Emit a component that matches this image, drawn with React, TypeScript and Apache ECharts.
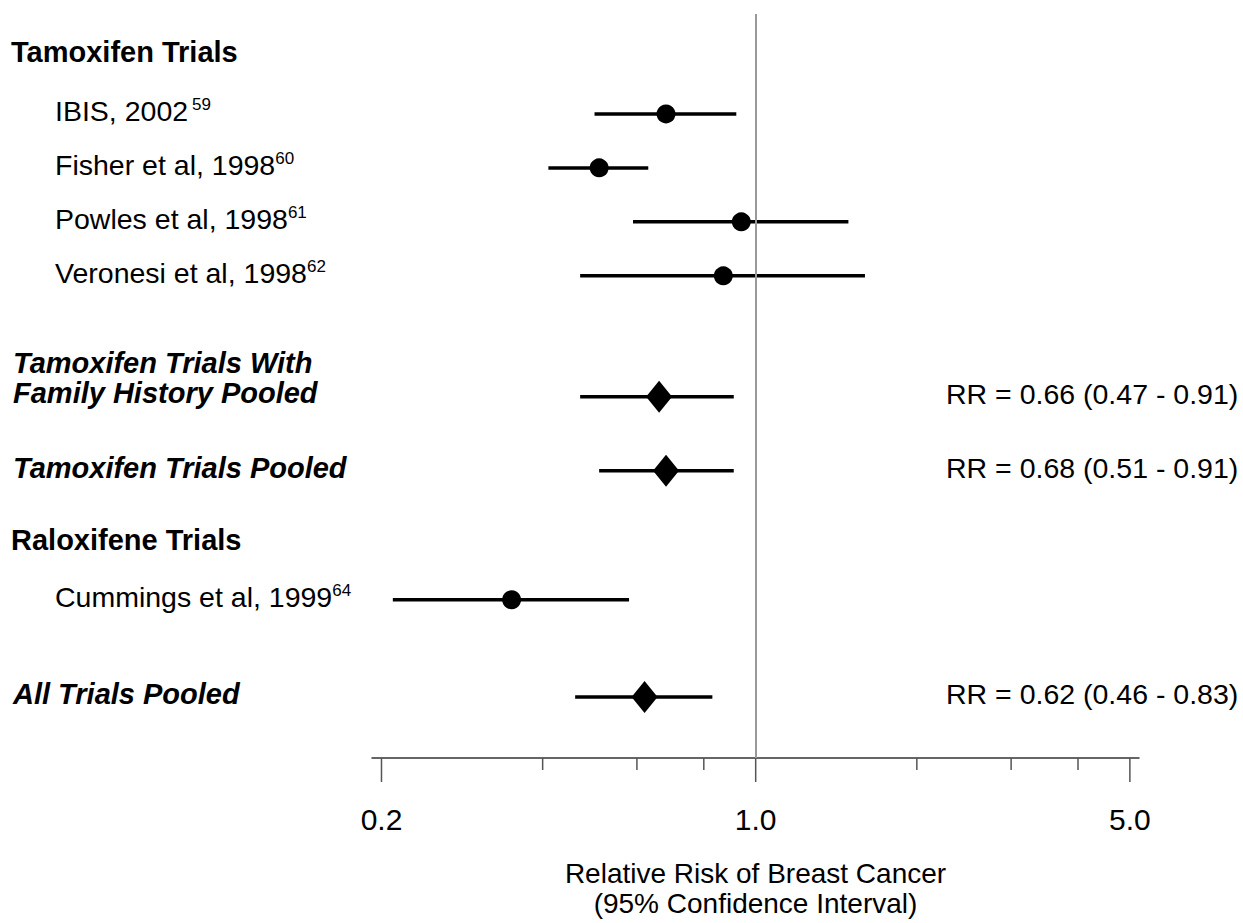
import React, { useEffect, useRef } from "react";
import * as echarts from "echarts";

// Individual trials
const studyNames = [
  "IBIS, 2002",
  "Fisher et al, 1998",
  "Powles et al, 1998",
  "Veronesi et al, 1998",
  "Cummings et al, 1999",
];
const studyRefs = ["59", "60", "61", "62", "64"];
const studyRows = [1, 2, 3, 4, 10];
const studyRR = [0.68, 0.51, 0.94, 0.87, 0.35];
const studyLo = [0.5, 0.41, 0.59, 0.47, 0.21];
const studyHi = [0.92, 0.63, 1.49, 1.6, 0.58];

// Pooled estimates
const pooledNames = [
  "Tamoxifen Trials With\nFamily History Pooled",
  "Tamoxifen Trials Pooled",
  "All Trials Pooled",
];
const pooledRows = [6.24, 7.61, 11.8];
const pooledRR = [0.66, 0.68, 0.62];
const pooledLo = [0.47, 0.51, 0.46];
const pooledHi = [0.91, 0.91, 0.83];

// Group headings
const groupHeaders = ["Tamoxifen Trials", "Raloxifene Trials"];
const headerRows = [-0.15, 8.89];

// Log axis ticks
const tickValues = [0.2, 0.4, 0.6, 0.8, 1, 2, 3, 4, 5];
const majorTicks = [0.2, 1, 5];
const majorLabels = ["0.2", "1.0", "5.0"];

const FONT = '"Liberation Sans", Arial, Helvetica, sans-serif';
const REG = 28.5;
const BOLD = 29;

export default function App() {
  const ref = useRef<HTMLDivElement>(null);

  useEffect(() => {
    document.body.style.margin = "0";
    if (!ref.current) return;
    const chart = echarts.init(ref.current, undefined, { renderer: "svg" });

    const fmt = (v: number) => v.toFixed(2);

    const option: any = {
      animation: false,
      backgroundColor: "#fff",
      grid: { left: 372, right: 104, top: 14, bottom: 165, containLabel: false },
      xAxis: {
        type: "log",
        logBase: 10,
        min: 0.192,
        max: 5.2,
        axisLine: { show: true, onZero: false, lineStyle: { color: "#333", width: 1.5 } },
        axisTick: { show: false },
        axisLabel: { show: false },
        splitLine: { show: false },
        name: "Relative Risk of Breast Cancer\n(95% Confidence Interval)",
        nameLocation: "middle",
        nameGap: 100,
        nameTextStyle: {
          fontFamily: FONT,
          fontSize: 28,
          lineHeight: 30,
          color: "#000",
          align: "center",
        },
      },
      yAxis: {
        type: "value",
        inverse: true,
        min: -0.85,
        max: 12.93,
        show: false,
      },
      series: [
        // Confidence intervals
        {
          type: "custom",
          clip: false,
          data: [
            ...studyRows.map((r, i) => [studyLo[i], studyHi[i], r]),
            ...pooledRows.map((r, i) => [pooledLo[i], pooledHi[i], r]),
          ],
          encode: { x: [0, 1], y: 2 },
          renderItem: (params: any, api: any) => {
            const a = api.coord([api.value(0), api.value(2)]);
            const b = api.coord([api.value(1), api.value(2)]);
            return {
              type: "line",
              shape: { x1: a[0], y1: a[1], x2: b[0], y2: b[1] },
              style: { stroke: "#000", lineWidth: 3.5 },
            };
          },
          z: 2,
        },
        // Trial point estimates
        {
          type: "scatter",
          symbol: "circle",
          symbolSize: 19,
          itemStyle: { color: "#000", opacity: 1 },
          data: studyRows.map((r, i) => [studyRR[i], r]),
          z: 3,
          markLine: {
            silent: true,
            symbol: "none",
            label: { show: false },
            lineStyle: { color: "#999", width: 2, type: "solid" },
            data: [{ xAxis: 1 }],
          },
        },
        // Pooled estimates
        {
          type: "scatter",
          symbol: "diamond",
          symbolSize: [26, 32],
          itemStyle: { color: "#000", opacity: 1 },
          data: pooledRows.map((r, i) => [pooledRR[i], r]),
          z: 3,
        },
        // Axis ticks and tick labels
        {
          type: "custom",
          clip: false,
          data: tickValues.map((v) => [v, 0]),
          encode: { x: 0, y: 1 },
          renderItem: (params: any, api: any) => {
            const v = api.value(0);
            const x = api.coord([v, 0])[0];
            const yBase = params.coordSys.y + params.coordSys.height;
            const mi = majorTicks.indexOf(v);
            const major = mi >= 0;
            const children: any[] = [
              {
                type: "line",
                shape: { x1: x, y1: yBase, x2: x, y2: yBase + (major ? 24 : 12) },
                style: { stroke: "#555", lineWidth: 1.5 },
              },
            ];
            if (major) {
              children.push({
                type: "text",
                style: {
                  x,
                  y: yBase + 61,
                  text: majorLabels[mi],
                  fontFamily: FONT,
                  fontSize: 30,
                  fill: "#000",
                  align: "center",
                  verticalAlign: "middle",
                },
              });
            }
            return { type: "group", children };
          },
        },
        // Group headings
        {
          type: "custom",
          clip: false,
          data: headerRows.map((r) => [1, r]),
          encode: { x: 0, y: 1 },
          renderItem: (params: any, api: any) => {
            const y = api.coord([1, api.value(1)])[1];
            return {
              type: "text",
              style: {
                x: 11,
                y,
                text: groupHeaders[params.dataIndex],
                fontFamily: FONT,
                fontSize: BOLD,
                fontWeight: "bold",
                fill: "#000",
                align: "left",
                verticalAlign: "middle",
              },
            };
          },
        },
        // Trial names with reference numbers
        {
          type: "custom",
          clip: false,
          data: studyRows.map((r) => [1, r]),
          encode: { x: 0, y: 1 },
          renderItem: (params: any, api: any) => {
            const i = params.dataIndex;
            const y = api.coord([1, api.value(1)])[1];
            return {
              type: "text",
              style: {
                x: 55,
                y: y - 3,
                text: `{n|${studyNames[i]}}{${i === 0 ? "g" : "s"}|${studyRefs[i]}}`,
                fontFamily: FONT,
                fontSize: REG,
                fill: "#000",
                align: "left",
                verticalAlign: "middle",
                rich: {
                  n: { fontFamily: FONT, fontSize: REG, fill: "#000", lineHeight: 30 },
                  s: {
                    fontFamily: FONT,
                    fontSize: 17,
                    fill: "#000",
                    verticalAlign: "top",
                    lineHeight: 20,
                  },
                  g: {
                    fontFamily: FONT,
                    fontSize: 17,
                    fill: "#000",
                    verticalAlign: "top",
                    lineHeight: 20,
                    padding: [0, 0, 0, 4],
                  },
                },
              },
            };
          },
        },
        // Pooled labels and RR summaries
        {
          type: "custom",
          clip: false,
          data: pooledRows.map((r) => [1, r]),
          encode: { x: 0, y: 1 },
          renderItem: (params: any, api: any) => {
            const i = params.dataIndex;
            const y = api.coord([1, api.value(1)])[1];
            const multi = pooledNames[i].includes("\n");
            return {
              type: "group",
              children: [
                {
                  type: "text",
                  style: {
                    x: 13,
                    y: multi ? y - 19 : y - 3,
                    text: pooledNames[i],
                    fontFamily: FONT,
                    fontSize: BOLD,
                    fontWeight: "bold",
                    fontStyle: "italic",
                    lineHeight: 30,
                    fill: "#000",
                    align: "left",
                    verticalAlign: "middle",
                  },
                },
                {
                  type: "text",
                  style: {
                    x: 946,
                    y: y - 3,
                    text: `RR = ${fmt(pooledRR[i])} (${fmt(pooledLo[i])} - ${fmt(pooledHi[i])})`,
                    fontFamily: FONT,
                    fontSize: REG,
                    fill: "#000",
                    align: "left",
                    verticalAlign: "middle",
                  },
                },
              ],
            };
          },
        },
      ],
    };

    chart.setOption(option);
    return () => chart.dispose();
  }, []);

  return <div ref={ref} style={{ width: 1243, height: 923 }} />;
}
